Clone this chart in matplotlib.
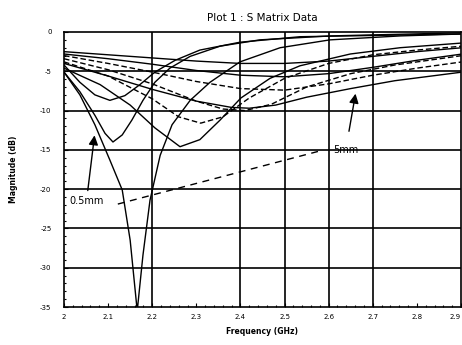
import numpy as np
import matplotlib.pyplot as plt

# S11 magnitude curves (GHz, dB)
freq_a = [2.0, 2.036, 2.070, 2.104, 2.132, 2.150, 2.166, 2.179, 2.195, 2.218, 2.245, 2.286, 2.331, 2.399, 2.490, 2.603, 2.762, 2.903]
mag_a = [-5.1, -8.0, -11.8, -16.3, -20.1, -26.5, -35.5, -28.4, -21.4, -15.7, -11.8, -8.7, -6.4, -3.8, -2.0, -1.0, -0.5, -0.25]

freq_b = [2.0, 2.036, 2.070, 2.093, 2.111, 2.132, 2.154, 2.179, 2.206, 2.240, 2.286, 2.354, 2.444, 2.603, 2.903]
mag_b = [-5.1, -7.6, -10.6, -12.9, -14.0, -13.1, -11.2, -8.7, -6.4, -4.6, -3.1, -1.8, -1.0, -0.5, -0.1]

freq_c = [2.0, 2.036, 2.070, 2.104, 2.138, 2.172, 2.206, 2.252, 2.308, 2.399, 2.535, 2.903]
mag_c = [-4.2, -6.4, -8.0, -8.7, -8.1, -6.7, -5.1, -3.6, -2.3, -1.3, -0.6, -0.25]

freq_d = [2.0, 2.082, 2.150, 2.206, 2.263, 2.308, 2.354, 2.401, 2.467, 2.535, 2.649, 2.762, 2.903]
mag_d = [-4.6, -6.7, -9.3, -12.2, -14.6, -13.7, -11.2, -8.4, -5.9, -4.3, -2.8, -2.0, -1.4]

freq_e = [2.0, 2.1, 2.2, 2.26, 2.31, 2.36, 2.42, 2.5, 2.6, 2.7, 2.8, 2.903]
mag_e = [-3.8, -5.6, -8.5, -10.8, -11.6, -10.8, -8.4, -5.9, -4.0, -2.9, -2.3, -1.8]

freq_f = [2.0, 2.1, 2.2, 2.3, 2.36, 2.41, 2.47, 2.55, 2.65, 2.75, 2.903]
mag_f = [-3.4, -4.8, -6.6, -8.8, -9.8, -10.0, -9.2, -7.0, -5.3, -4.2, -3.0]

freq_g = [2.0, 2.1, 2.2, 2.3, 2.38, 2.42, 2.48, 2.55, 2.65, 2.75, 2.903]
mag_g = [-4.0, -5.6, -7.3, -8.8, -9.6, -9.7, -9.3, -8.3, -7.2, -6.2, -5.1]

freq_h = [2.0, 2.1, 2.2, 2.3, 2.4, 2.5, 2.6, 2.7, 2.8, 2.903]
mag_h = [-3.0, -4.0, -5.1, -6.3, -7.2, -7.4, -6.6, -5.5, -4.6, -3.8]

freq_i = [2.0, 2.1, 2.2, 2.3, 2.4, 2.5, 2.6, 2.7, 2.8, 2.903]
mag_i = [-2.8, -3.4, -4.1, -4.9, -5.5, -5.7, -5.3, -4.5, -3.6, -2.8]

freq_j = [2.0, 2.1, 2.2, 2.3, 2.4, 2.5, 2.6, 2.7, 2.8, 2.903]
mag_j = [-2.5, -2.9, -3.3, -3.7, -4.0, -4.0, -3.7, -3.1, -2.5, -2.0]

curves = [(freq_a, mag_a), (freq_b, mag_b), (freq_c, mag_c), (freq_d, mag_d),
          (freq_e, mag_e), (freq_f, mag_f), (freq_g, mag_g), (freq_h, mag_h),
          (freq_i, mag_i), (freq_j, mag_j)]
dashed = [False, False, False, False, True, True, False, True, False, False]

x_ticks = [2.0, 2.1, 2.2, 2.3, 2.4, 2.5, 2.6, 2.7, 2.8, 2.9]
x_labels = ['2', '2.1', '2.2', '2.3', '2.4', '2.5', '2.6', '2.7', '2.8', '2.9']
x_grid = [2.2, 2.4, 2.5, 2.6, 2.7]
y_ticks = [0, -5, -10, -15, -20, -25, -30, -35]
y_labels = ['0', '-5', '-10', '-15', '-20', '-25', '-30', '-35']

# trend line between the two gap labels
trend_x = [2.122, 2.576]
trend_y = [-21.9, -15.2]

plt.rcParams['font.family'] = ['DejaVu Sans']
fig = plt.figure(figsize=(4.62, 3.45), dpi=100)
ax = fig.add_axes([64 / 462, 38 / 345, 397 / 462, 275 / 345])

for (f, m), d in zip(curves, dashed):
    ax.plot(f, m, color='black', lw=1.0, ls=(0, (4, 2)) if d else '-')

ax.plot(trend_x, trend_y, color='black', lw=1.0, ls=(0, (5, 4)))

for gx in x_grid:
    ax.axvline(gx, color='black', lw=1.2)
for gy in y_ticks[1:-1]:
    ax.axhline(gy, color='black', lw=1.2)

ax.set_xlim(2.0, 2.9)
ax.set_ylim(-35, 0)
ax.set_xticks(x_ticks)
ax.set_xticklabels(x_labels)
ax.get_xticklabels()[-1].set_horizontalalignment('right')
ax.set_yticks(y_ticks)
ax.set_yticklabels(y_labels)
ax.minorticks_on()
ax.tick_params(which='both', direction='in', labelsize=5, width=0.8)
ax.tick_params(which='major', length=3)
ax.tick_params(which='minor', length=1.5)
ax.tick_params(axis='y', pad=9)
ax.tick_params(axis='x', pad=5)
for s in ax.spines.values():
    s.set_linewidth(1.2)

ax.annotate('0.5mm', xy=(2.07, -12.8), xytext=(2.012, -21.9), fontsize=7,
            arrowprops=dict(arrowstyle='-|>', color='black', lw=1.0,
                            mutation_scale=14))
ax.annotate('5mm', xy=(2.662, -7.5), xytext=(2.61, -15.4), fontsize=7,
            arrowprops=dict(arrowstyle='-|>', color='black', lw=1.0,
                            mutation_scale=14, shrinkA=8))

ax.set_title('Plot 1 : S Matrix Data', fontsize=7.5, pad=8)
ax.set_xlabel('Frequency (GHz)', fontsize=5.5, fontweight='bold', labelpad=5)
ax.set_ylabel('Magnitude (dB)', fontsize=5.5, fontweight='bold', labelpad=16)

fig.savefig('out.png', dpi=100)
